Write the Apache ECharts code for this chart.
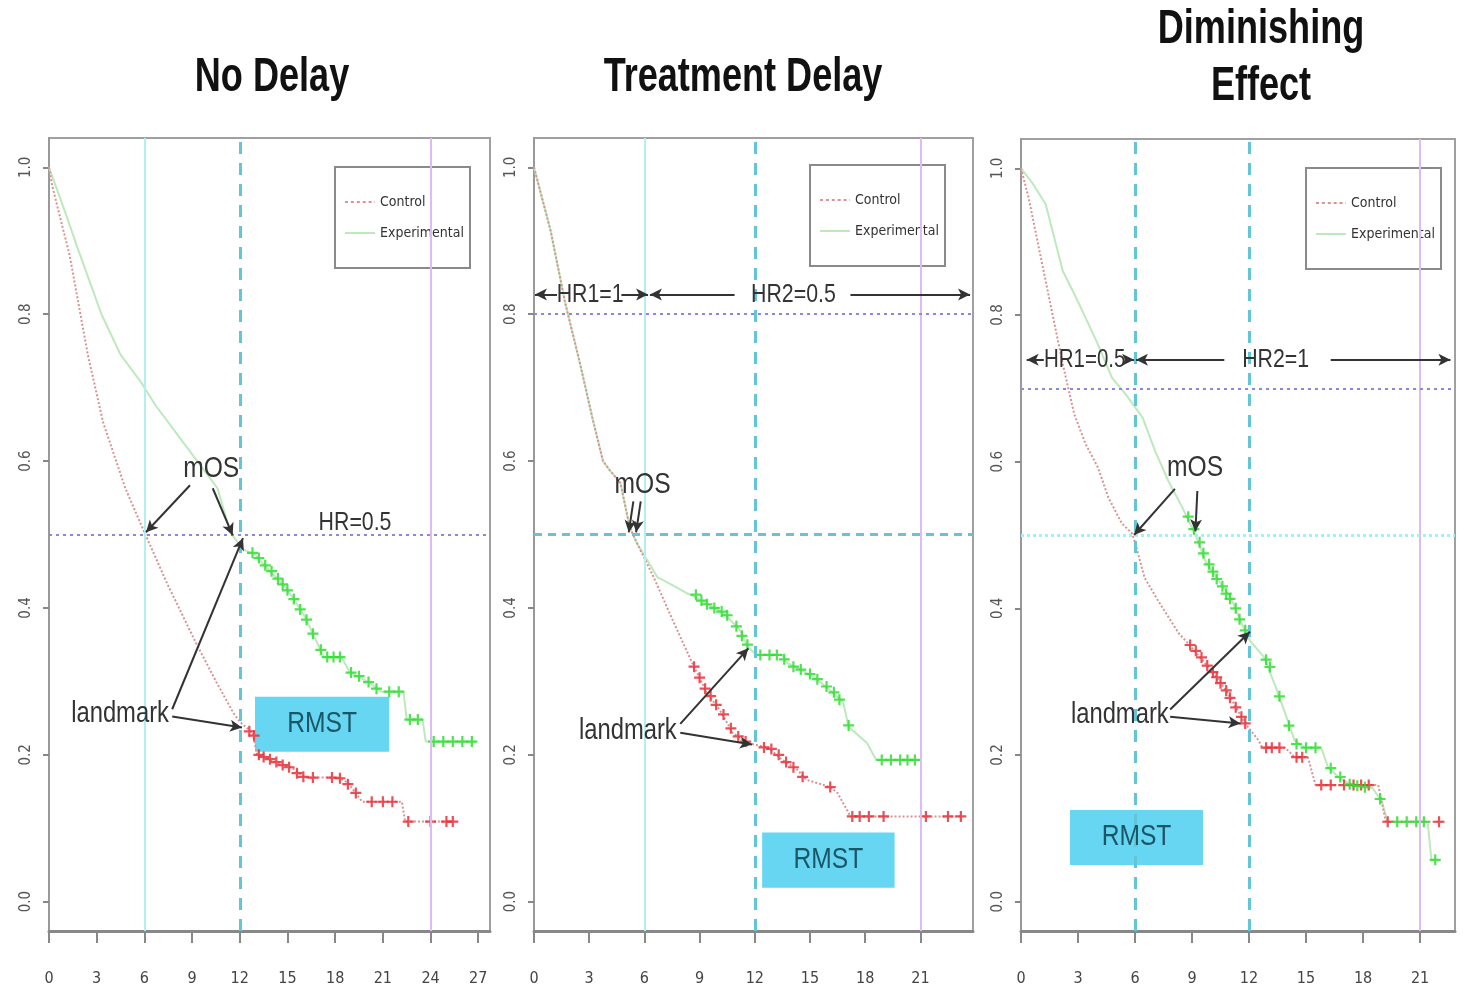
<!DOCTYPE html>
<html><head><meta charset="utf-8">
<script src="https://cdn.jsdelivr.net/npm/echarts@6/dist/echarts.min.js"></script>
<style>html,body{margin:0;padding:0;background:#fff}#c{width:1465px;height:997px}</style>
</head><body><div id="c"></div>
<script>
// ---------- data ----------
const panelTitles = ['No Delay', 'Treatment Delay', 'Diminishing\nEffect'];
const xTicks1 = [0, 3, 6, 9, 12, 15, 18, 21, 24, 27];
const xTicks2 = [0, 3, 6, 9, 12, 15, 18, 21];
const xTicks3 = [0, 3, 6, 9, 12, 15, 18, 21];
const yTicks = [0, 0.2, 0.4, 0.6, 0.8, 1.0];
const legendNames = ['Control', 'Experimental'];

// Panel 1 – No Delay
const p1Control = [[0,1],[0.2,0.975],[1.3,0.88],[2.45,0.744],[3.4,0.653],[4.8,0.563],[6.0,0.503],[7.5,0.43],[9.3,0.35],[10.5,0.3],[11.6,0.257],[12.0,0.245],[12.8,0.23],[13.1,0.2],[14.4,0.189],[15.3,0.182],[16.1,0.169],[18.2,0.169],[18.8,0.162],[19.7,0.136],[22.2,0.136],[22.4,0.109],[25.5,0.109]];
const p1Experimental = [[0,1],[1.0,0.94],[1.8,0.89],[3.3,0.8],[4.5,0.745],[5.8,0.707],[6.7,0.676],[8.7,0.618],[10.6,0.563],[11.4,0.503],[12.2,0.48],[13.0,0.472],[13.8,0.452],[14.8,0.43],[15.3,0.415],[16.1,0.388],[16.7,0.36],[17.3,0.333],[18.4,0.333],[18.9,0.313],[20.1,0.299],[20.9,0.286],[22.3,0.286],[22.5,0.248],[23.5,0.248],[23.7,0.218],[26.8,0.218]];
const p1ControlCensor = [[12.6,0.232],[12.9,0.226],[13.2,0.2],[13.5,0.197],[13.9,0.194],[14.3,0.19],[14.7,0.186],[15.1,0.183],[15.6,0.175],[16.0,0.17],[16.6,0.169],[17.8,0.169],[18.3,0.168],[18.8,0.16],[19.3,0.148],[20.3,0.136],[21.0,0.136],[21.6,0.136],[22.6,0.109],[24.0,0.109],[25.0,0.109],[25.4,0.109]];
const p1ExperimentalCensor = [[12.8,0.475],[13.2,0.468],[13.6,0.458],[14.0,0.45],[14.4,0.44],[14.7,0.432],[15.0,0.424],[15.4,0.412],[15.8,0.398],[16.2,0.384],[16.6,0.365],[17.1,0.343],[17.5,0.333],[17.9,0.333],[18.3,0.333],[19.0,0.312],[19.5,0.307],[20.1,0.299],[20.6,0.29],[21.4,0.286],[22.0,0.286],[22.7,0.248],[23.2,0.248],[24.2,0.218],[24.8,0.218],[25.4,0.218],[26.0,0.218],[26.6,0.218]];

// Panel 2 – Treatment Delay
const p2Control = [[0,1],[0.9,0.914],[1.7,0.815],[2.5,0.733],[3.2,0.656],[3.75,0.6],[4.1,0.588],[4.7,0.57],[5.2,0.51],[5.6,0.488],[6.5,0.442],[7.6,0.38],[8.6,0.325],[9.4,0.284],[10.1,0.261],[10.8,0.23],[11.6,0.216],[12.7,0.21],[13.5,0.193],[14.3,0.18],[14.8,0.166],[16.1,0.156],[16.5,0.148],[17.2,0.116],[23.3,0.116]];
const p2Experimental = [[0,1],[0.9,0.914],[1.7,0.815],[2.5,0.733],[3.2,0.656],[3.75,0.6],[4.1,0.588],[4.7,0.57],[5.2,0.51],[5.6,0.488],[6.7,0.442],[7.6,0.43],[8.3,0.42],[8.75,0.415],[9.7,0.401],[10.3,0.393],[11.2,0.37],[11.6,0.347],[12.1,0.336],[13.5,0.336],[13.75,0.325],[14.5,0.316],[15.2,0.306],[16.1,0.288],[16.8,0.272],[17.1,0.238],[18.1,0.216],[18.6,0.193],[21.0,0.193]];
const p2ControlCensor = [[8.7,0.32],[9.0,0.305],[9.3,0.29],[9.6,0.28],[9.9,0.268],[10.3,0.255],[10.7,0.236],[11.1,0.225],[11.5,0.218],[12.5,0.21],[12.9,0.208],[13.3,0.2],[13.7,0.19],[14.1,0.183],[14.6,0.17],[16.1,0.156],[17.3,0.116],[17.7,0.116],[18.2,0.116],[19.0,0.116],[21.3,0.116],[22.5,0.116],[23.2,0.116]];
const p2ExperimentalCensor = [[8.8,0.418],[9.1,0.41],[9.4,0.405],[9.8,0.4],[10.2,0.395],[10.5,0.39],[11.0,0.375],[11.3,0.362],[11.6,0.35],[12.3,0.336],[12.8,0.336],[13.2,0.336],[13.6,0.33],[14.1,0.32],[14.5,0.316],[15.0,0.31],[15.4,0.303],[15.9,0.293],[16.3,0.285],[16.6,0.275],[17.1,0.24],[18.9,0.193],[19.4,0.193],[19.9,0.193],[20.3,0.193],[20.7,0.193]];

// Panel 3 – Diminishing Effect
const p3Control = [[0,1],[0.4,0.96],[1.3,0.846],[2.2,0.733],[2.8,0.665],[3.4,0.624],[4.05,0.592],[4.6,0.551],[5.3,0.516],[5.85,0.502],[6.0,0.49],[6.5,0.442],[7.2,0.411],[8.3,0.366],[8.8,0.352],[10.0,0.316],[10.9,0.284],[11.6,0.252],[11.95,0.238],[12.5,0.22],[12.7,0.21],[13.9,0.21],[14.4,0.197],[15.1,0.197],[15.5,0.159],[18.8,0.159],[19.2,0.109],[22.2,0.109]];
const p3Experimental = [[0,1],[0.6,0.98],[1.3,0.951],[2.2,0.86],[2.8,0.829],[3.4,0.796],[4.05,0.76],[4.8,0.714],[5.5,0.692],[6.4,0.66],[7.05,0.615],[7.75,0.574],[8.5,0.537],[9.15,0.502],[9.7,0.465],[10.4,0.438],[11.1,0.411],[11.6,0.38],[12.05,0.356],[12.8,0.333],[13.4,0.293],[13.9,0.257],[14.4,0.22],[14.95,0.21],[15.8,0.21],[16.15,0.184],[16.7,0.17],[17.2,0.162],[18.5,0.155],[19.0,0.136],[19.3,0.109],[21.4,0.109],[21.6,0.057],[21.9,0.057]];
const p3ControlCensor = [[8.9,0.35],[9.2,0.342],[9.5,0.333],[9.8,0.322],[10.1,0.313],[10.3,0.306],[10.5,0.298],[10.8,0.288],[11.0,0.278],[11.3,0.265],[11.6,0.252],[11.8,0.243],[12.9,0.21],[13.2,0.21],[13.6,0.21],[14.5,0.197],[14.8,0.197],[15.8,0.159],[16.3,0.159],[17.0,0.159],[17.5,0.159],[17.9,0.159],[18.3,0.159],[19.3,0.109],[22.0,0.109]];
const p3ExperimentalCensor = [[8.8,0.525],[9.1,0.508],[9.4,0.49],[9.6,0.475],[9.9,0.46],[10.1,0.45],[10.3,0.44],[10.6,0.43],[10.8,0.42],[11.0,0.413],[11.3,0.4],[11.5,0.385],[11.8,0.37],[12.9,0.33],[13.1,0.32],[13.6,0.28],[14.1,0.24],[14.5,0.215],[15.0,0.21],[15.5,0.21],[16.3,0.182],[16.8,0.17],[17.3,0.16],[17.7,0.158],[18.1,0.156],[18.9,0.14],[19.8,0.109],[20.3,0.109],[20.8,0.109],[21.2,0.109],[21.8,0.057]];

// ---------- styling / layout ----------
const FONT = '"DejaVu Sans Condensed","Liberation Sans",sans-serif';
const ARIAL = '"Liberation Sans",Arial,sans-serif';
const NARROW = 0.82;
const PALE_RED = '#d99393', PALE_GREEN = '#bde9bd', RED = '#e8303a', GREEN = '#33dd33';
const CYAN_THIN = '#b4eef0', CYAN_DASH = '#62c6d6', VIOLET = '#dcbcf2', PURPLE_DOT = '#8a86e2', CYAN_DOT = '#a6f0f2';
const PLUS = 'path://M4,0H6V4H10V6H6V10H4V6H0V4H4Z';
const ICON_DOTTED = 'path://M0,0H3V2H0Z M6,0H9V2H6Z M12,0H15V2H12Z M18,0H21V2H18Z M24,0H27V2H24Z M30,0H30.5V2H30Z';
const ICON_SOLID = 'path://M0,0H30V2H0Z';

const grids = [
  {left: 49, top: 138, width: 441, height: 793},
  {left: 534, top: 138, width: 439, height: 793},
  {left: 1021, top: 139, width: 434, height: 792}
];
const xMax = [27.74, 23.86, 22.84];
const xTickSets = [xTicks1, xTicks2, xTicks3];

function xAxisFor(i) {
  return {
    gridIndex: i, type: 'value', min: 0, max: xMax[i],
    axisLine: {show: true, onZero: false, lineStyle: {color: '#888', width: 3}},
    axisTick: {show: true, customValues: xTickSets[i], length: 12, lineStyle: {color: '#888', width: 2}},
    axisLabel: {customValues: xTickSets[i], margin: 40, fontSize: 16, color: '#444', fontFamily: FONT},
    splitLine: {show: false}
  };
}
function yAxisFor(i) {
  return {
    gridIndex: i, type: 'value', min: -0.04, max: 1.04,
    axisLine: {show: true, lineStyle: {color: '#999', width: 2}},
    axisTick: {show: true, customValues: yTicks, length: 6, lineStyle: {color: '#888', width: 2}},
    axisLabel: {customValues: yTicks, rotate: 90, margin: 15, fontSize: 15, color: '#555', fontFamily: FONT,
      formatter: v => v.toFixed(1)},
    splitLine: {show: false}
  };
}

function curveSeries(i, ctrl, exp, ctrlC, expC) {
  return [
    {name: 'Experimental', type: 'line', xAxisIndex: i, yAxisIndex: i, data: exp, showSymbol: false, symbol: 'none',
      lineStyle: {color: PALE_GREEN, width: 2}, itemStyle: {color: PALE_GREEN}, z: 3, animation: false},
    {name: 'Control', type: 'line', xAxisIndex: i, yAxisIndex: i, data: ctrl, showSymbol: false, symbol: 'none',
      lineStyle: {color: PALE_RED, width: 2, type: 'dotted'}, itemStyle: {color: PALE_RED}, z: 3, animation: false},
    {name: 'ctrl-censor-' + i, type: 'scatter', xAxisIndex: i, yAxisIndex: i, data: ctrlC, symbol: PLUS, symbolSize: 11,
      itemStyle: {color: RED, opacity: 0.85}, z: 4, animation: false},
    {name: 'exp-censor-' + i, type: 'scatter', xAxisIndex: i, yAxisIndex: i, data: expC, symbol: PLUS, symbolSize: 11,
      itemStyle: {color: GREEN, opacity: 0.85}, z: 4, animation: false}
  ];
}

const arrowLine = {color: '#333', width: 2, type: 'solid'};
function A(x1, y1, x2, y2) {
  return [{coord: [x1, y1], symbol: 'none', lineStyle: arrowLine},
          {coord: [x2, y2], symbol: 'arrow', symbolSize: [9, 12], lineStyle: arrowLine}];
}

// reference lines, arrows and RMST box (attached to a carrier series)
function refSeries(i, lines, rmst) {
  return {
    name: 'ref-' + i, type: 'line', xAxisIndex: i, yAxisIndex: i, data: [], z: 5, animation: false, silent: true,
    markLine: {silent: true, symbol: ['none', 'none'], label: {show: false}, animation: false, data: lines},
    markArea: {silent: true, animation: false, itemStyle: {color: '#66d6f2', opacity: 1}, label: {show: false},
      data: [[{coord: rmst[0]}, {coord: rmst[1]}]]}
  };
}
// text annotations, placed through the axes, drawn in a narrow Arial-like style
function textSeries(i, items) {
  return {
    name: 'text-' + i, type: 'custom', xAxisIndex: i, yAxisIndex: i, z: 8, silent: true, animation: false, clip: false,
    data: items.map(t => [t.x, t.y]),
    encode: {x: 0, y: 1},
    renderItem: (params, api) => {
      const t = items[params.dataIndex];
      const p = api.coord([api.value(0), api.value(1)]);
      return {type: 'text', x: p[0], y: p[1], scaleX: NARROW,
        style: {text: t.text, font: t.size + 'px ' + ARIAL, fill: t.color || '#333',
          textAlign: 'center', textVerticalAlign: 'middle'}};
    }
  };
}

const vThin = x => ({xAxis: x, lineStyle: {color: CYAN_THIN, width: 2, type: 'solid'}});
const vDash = x => ({xAxis: x, lineStyle: {color: CYAN_DASH, width: 3, type: [12, 9]}});
const vViolet = x => ({xAxis: x, lineStyle: {color: VIOLET, width: 2, type: 'solid'}});
const hPurple = y => ({yAxis: y, lineStyle: {color: PURPLE_DOT, width: 2, type: [3, 4]}});
const hCyanDash = y => ({yAxis: y, lineStyle: {color: CYAN_DASH, width: 3, type: [8, 6]}});
const hCyanDot = y => ({yAxis: y, lineStyle: {color: CYAN_DOT, width: 3, type: [3, 3]}});
const RMST_COLOR = '#1b5667';

const ref1 = refSeries(0,
  [vThin(6), vDash(12), vViolet(24), hPurple(0.5),
   A(8.87, 0.567, 6.1, 0.503), A(10.3, 0.563, 11.55, 0.499),
   A(7.75, 0.262, 12.2, 0.495), A(7.75, 0.252, 12.14, 0.237)],
  [[12.96, 0.279], [21.4, 0.204]]);
const txt1 = textSeries(0, [
  {text: 'mOS', x: 10.2, y: 0.59, size: 30}, {text: 'landmark', x: 4.47, y: 0.255, size: 29},
  {text: 'HR=0.5', x: 19.25, y: 0.516, size: 26}, {text: 'RMST', x: 17.18, y: 0.242, size: 30, color: RMST_COLOR}]);

const ref2 = refSeries(1,
  [vThin(6), vDash(12), vViolet(21), hPurple(0.8), hCyanDash(0.5),
   A(1.25, 0.827, 0.05, 0.827), A(4.75, 0.827, 6.2, 0.827), A(10.9, 0.827, 6.3, 0.827), A(17.2, 0.827, 23.7, 0.827),
   A(5.4, 0.545, 5.15, 0.503), A(5.8, 0.545, 5.55, 0.503),
   A(7.95, 0.242, 11.65, 0.345), A(7.95, 0.23, 11.85, 0.214)],
  [[12.4, 0.094], [19.6, 0.019]]);
const txt2 = textSeries(1, [
  {text: 'mOS', x: 5.9, y: 0.568, size: 30}, {text: 'landmark', x: 5.1, y: 0.232, size: 29},
  {text: 'HR1=1', x: 3.05, y: 0.827, size: 26}, {text: 'HR2=0.5', x: 14.1, y: 0.827, size: 26},
  {text: 'RMST', x: 16.0, y: 0.057, size: 30, color: RMST_COLOR}]);

const ref3 = refSeries(2,
  [vDash(6), vDash(12), vViolet(21), hPurple(0.7), hCyanDot(0.5),
   A(1.2, 0.739, 0.3, 0.739), A(5.45, 0.739, 5.95, 0.739), A(10.7, 0.739, 6.05, 0.739), A(16.3, 0.739, 22.6, 0.739),
   A(8.1, 0.563, 5.95, 0.5), A(9.28, 0.56, 9.18, 0.505),
   A(7.85, 0.262, 12.05, 0.368), A(7.85, 0.252, 11.55, 0.243)],
  [[2.58, 0.125], [9.58, 0.05]]);
const txt3 = textSeries(2, [
  {text: 'mOS', x: 9.16, y: 0.592, size: 30}, {text: 'landmark', x: 5.2, y: 0.255, size: 29},
  {text: 'HR1=0.5', x: 3.35, y: 0.739, size: 25}, {text: 'HR2=1', x: 13.4, y: 0.739, size: 26},
  {text: 'RMST', x: 6.08, y: 0.088, size: 30, color: RMST_COLOR}]);

const legendBase = {
  orient: 'vertical', selectedMode: false,
  data: [{name: legendNames[0], icon: ICON_DOTTED}, {name: legendNames[1], icon: ICON_SOLID}],
  backgroundColor: '#fff', borderColor: '#8a8a8a', borderWidth: 2, borderRadius: 0,
  itemWidth: 30, itemHeight: 2, itemGap: 13,
  textStyle: {fontSize: 14, color: '#333', fontFamily: FONT, lineHeight: 18}
};
const legends = [
  Object.assign({}, legendBase, {left: 335, top: 167, padding: [26, 6, 26, 10]}),
  Object.assign({}, legendBase, {left: 810, top: 165, padding: [26, 6, 26, 10]}),
  Object.assign({}, legendBase, {left: 1306, top: 168, padding: [26, 6, 26, 10]})
];

const titleCenters = [[272, 78], [743, 78], [1261, 58]];
const graphic = panelTitles.map((t, i) => ({
  type: 'text', x: titleCenters[i][0], y: titleCenters[i][1], silent: true, scaleX: 0.82, scaleY: 1.1,
  style: {text: t, fill: '#111', font: 'bold 44px ' + ARIAL, textAlign: 'center', textVerticalAlign: 'middle', lineHeight: 52}
}));

const chart = echarts.init(document.getElementById('c'), null, {renderer: 'canvas'});
chart.setOption({
  backgroundColor: '#fff',
  animation: false,
  grid: grids.map(g => Object.assign({show: true, borderColor: '#a0a0a0', borderWidth: 2, backgroundColor: 'transparent'}, g)),
  xAxis: [0, 1, 2].map(xAxisFor),
  yAxis: [0, 1, 2].map(yAxisFor),
  legend: legends,
  graphic: graphic,
  series: [
    ...curveSeries(0, p1Control, p1Experimental, p1ControlCensor, p1ExperimentalCensor),
    ...curveSeries(1, p2Control, p2Experimental, p2ControlCensor, p2ExperimentalCensor),
    ...curveSeries(2, p3Control, p3Experimental, p3ControlCensor, p3ExperimentalCensor),
    ref1, ref2, ref3, txt1, txt2, txt3
  ]
});
</script>
</body></html>
